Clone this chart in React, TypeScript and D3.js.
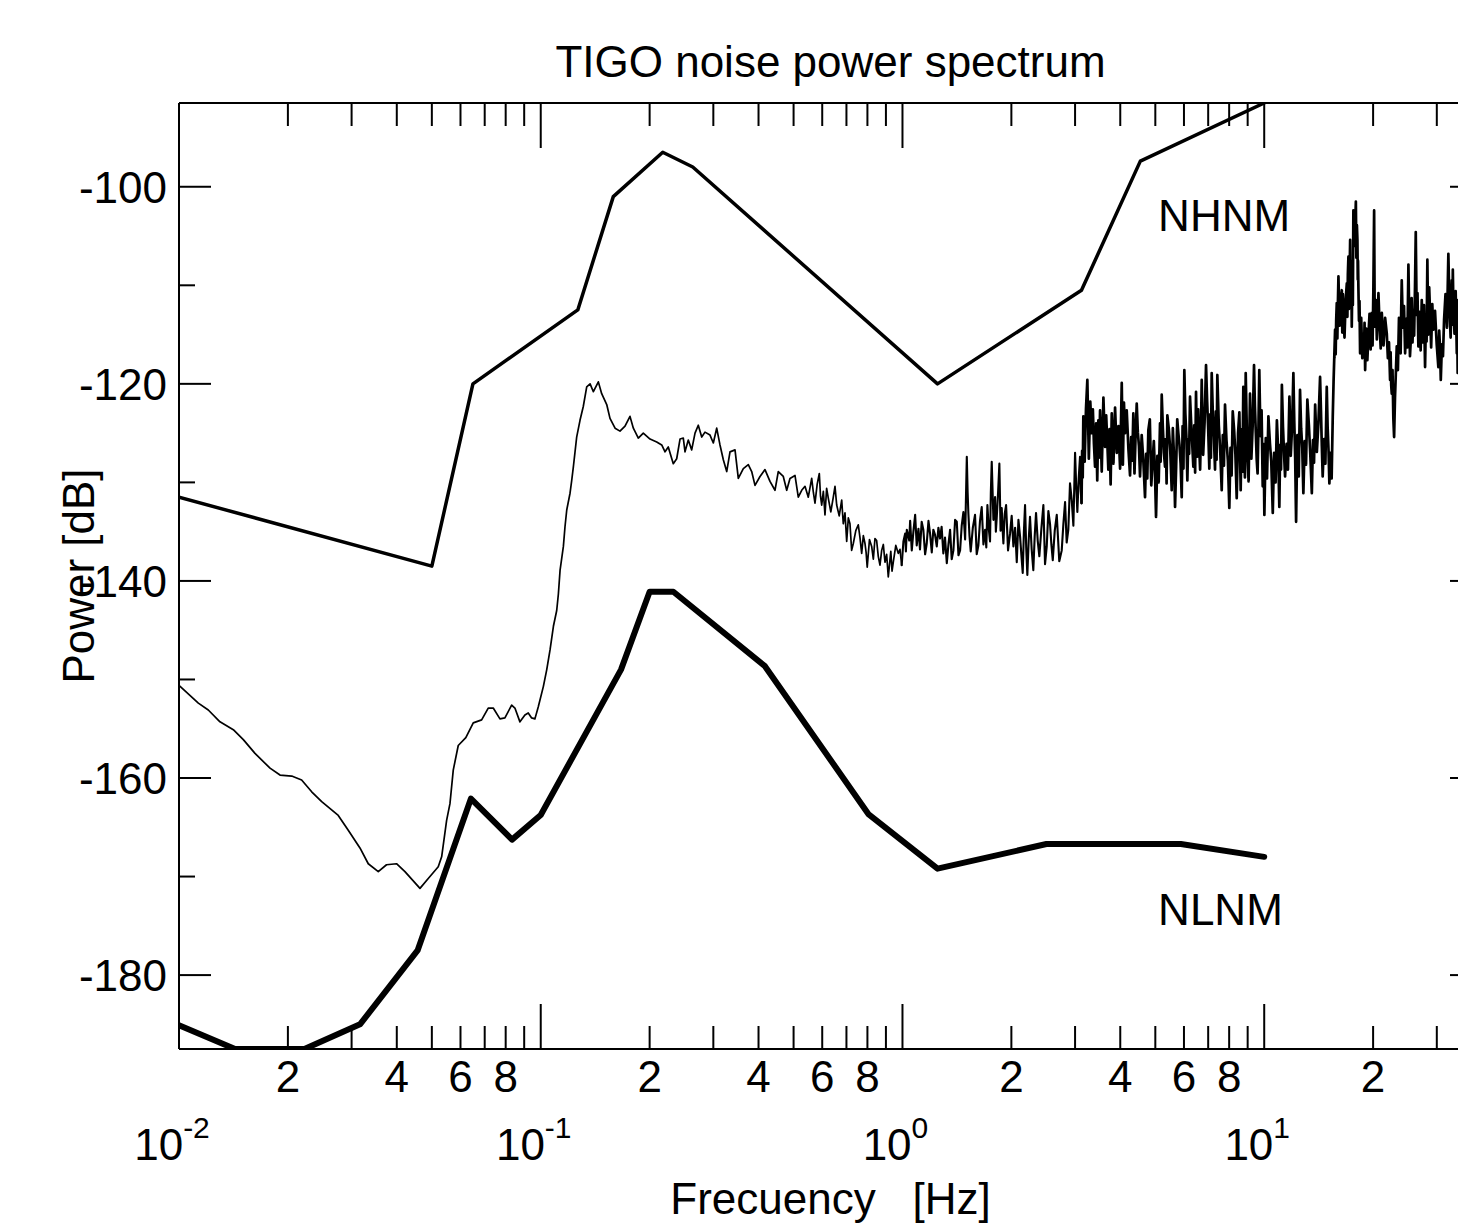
import React from 'react';
import * as d3 from 'd3';

const W = 1458;
const H = 1229;
const plot = { left: 179, right: 1482, top: 103, bottom: 1049 };
const FONT = '"Liberation Sans", Arial, Helvetica, sans-serif';

// axis ranges: frequency [Hz], power [dB]
const freqRange = [0.01, 40];
const powerRange = [-187.5, -91.5];

const yMajorTicks = [-180, -160, -140, -120, -100];
const yMinorTicks = [-170, -150, -130, -110];
const xDecadeExponents = [-2, -1, 0, 1];
const xLabelledDigits = [2, 4, 6, 8];

// Peterson (1993) New High Noise Model, breakpoints
const nhnmFreq = [0.01, 0.05, 0.06494, 0.1266, 0.1587, 0.2174, 0.2632, 1.25, 3.125, 4.545, 10];
const nhnmPower = [-131.5, -138.5, -120.0, -112.5, -101.0, -96.5, -98.0, -120.0, -110.5, -97.4, -91.5];

// Peterson (1993) New Low Noise Model, breakpoints
const nlnmFreq = [0.01, 0.01429, 0.02222, 0.03165, 0.04566, 0.0641, 0.0833, 0.1, 0.1667, 0.2, 0.2326, 0.4167, 0.8065, 1.25, 2.5, 5.882, 10];
const nlnmPower = [-185.1, -187.5, -187.5, -185.0, -177.5, -162.1, -166.25, -163.75, -149.0, -141.1, -141.1, -148.65, -163.7, -169.2, -166.7, -166.7, -168.0];

// TIGO measured spectrum [Hz, dB], long period part
const tigoLow: [number, number][] = [
  [0.0100, -150.6], [0.01131, -152.4], [0.01205, -153.1], [0.01298, -154.3], [0.01413, -155.1],
  [0.01506, -156.1], [0.01622, -157.5], [0.01785, -159.0], [0.01902, -159.7], [0.02049, -159.8],
  [0.02183, -160.2], [0.02327, -161.4], [0.02480, -162.4], [0.02756, -163.8], [0.02937, -165.3],
  [0.03164, -167.1], [0.03336, -168.7], [0.03555, -169.5], [0.03747, -168.8], [0.03993, -168.7],
  [0.04213, -169.5], [0.04636, -171.2], [0.04887, -170.2], [0.05208, -169.0], [0.05322, -168.0],
  [0.05493, -164.3], [0.05611, -162.6], [0.05730, -159.2], [0.05915, -156.7], [0.06207, -155.9],
  [0.06508, -154.4], [0.06865, -154.1], [0.07159, -152.9], [0.07391, -152.9], [0.07713, -154.0],
  [0.07961, -153.9], [0.08309, -152.6], [0.08484, -152.9], [0.08760, -154.3], [0.09042, -153.6],
  [0.09235, -153.4], [0.09437, -153.9], [0.09636, -154.0], [0.09842, -152.8], [0.1017, -150.7],
  [0.1039, -149.0], [0.1061, -147.0], [0.1084, -144.6], [0.1107, -143.0], [0.1119, -141.3],
  [0.1131, -138.9], [0.1155, -136.5], [0.1167, -134.5], [0.1180, -132.8], [0.1205, -131.1],
  [0.1218, -129.8], [0.1231, -128.4], [0.1257, -125.4], [0.1284, -123.7], [0.1311, -122.3],
  [0.1340, -120.3], [0.1369, -120.0], [0.1398, -120.8], [0.1443, -119.8], [0.1474, -121.0],
  [0.1522, -122.1], [0.1554, -123.5], [0.1605, -124.5], [0.1656, -124.8], [0.1710, -124.3],
  [0.1765, -123.3], [0.1803, -124.5], [0.1861, -125.5], [0.1921, -125.0], [0.2005, -125.6],
  [0.2092, -125.9], [0.2160, -126.2], [0.2206, -126.9], [0.2252, -126.4], [0.2325, -128.1],
  [0.2376, -127.6], [0.2427, -125.6], [0.2478, -125.5], [0.2505, -126.9], [0.2558, -125.7],
  [0.2614, -126.7], [0.2670, -125.0], [0.2726, -124.2], [0.2786, -125.4], [0.2845, -124.9],
  [0.2937, -125.2], [0.3000, -126.0], [0.3065, -124.5], [0.3130, -126.2], [0.3197, -127.7],
  [0.3267, -128.9], [0.3336, -126.9], [0.3444, -126.7], [0.3517, -129.6], [0.3631, -128.6],
  [0.3748, -128.2], [0.3830, -128.9], [0.3911, -130.3], [0.4038, -129.4], [0.4168, -128.7],
  [0.4303, -129.9], [0.4442, -130.8], [0.4536, -128.9], [0.4683, -129.4], [0.4786, -130.8],
  [0.4887, -129.6], [0.5045, -129.3], [0.5152, -131.5], [0.5265, -130.8], [0.5377, -130.4],
  [0.5491, -131.5], [0.5611, -129.6], [0.5670, -131.0], [0.5730, -132.1], [0.5810, -130.2],
  [0.5890, -129.1], [0.5935, -131.4], [0.5980, -132.3], [0.6043, -130.9], [0.6106, -133.3],
  [0.6171, -130.6], [0.6236, -131.6], [0.6337, -133.0], [0.6438, -131.5], [0.6508, -130.4],
  [0.6579, -132.3], [0.6685, -133.4], [0.6792, -131.8], [0.6826, -133.0], [0.6861, -134.2],
  [0.6936, -133.1], [0.7011, -136.0], [0.7085, -133.6], [0.7159, -134.2], [0.7235, -136.9],
  [0.7312, -136.2], [0.7430, -134.9], [0.7548, -134.3], [0.7630, -135.6], [0.7713, -137.2],
  [0.7795, -135.4], [0.7877, -136.2], [0.7933, -137.1], [0.7990, -138.6], [0.8105, -135.8],
  [0.8220, -136.5], [0.8307, -137.8], [0.8394, -135.7], [0.8483, -135.9], [0.8572, -137.5],
  [0.8666, -138.4], [0.8760, -136.9], [0.8853, -136.3], [0.8946, -138.1], [0.9041, -137.3],
  [0.9136, -139.6], [0.9284, -137.0], [0.9358, -139.0], [0.9432, -138.1], [0.9584, -136.4],
  [0.9736, -137.2], [0.9843, -136.8], [0.9950, -138.4],
];

// TIGO measured spectrum [Hz, dB], 1 - 3 Hz
const tigoMid: [number, number][] = [
  [1.006, -136.0], [1.017, -135.2], [1.022, -137.0], [1.028, -134.8], [1.044, -135.9],
  [1.050, -133.9], [1.061, -136.9], [1.072, -135.0], [1.084, -133.3], [1.095, -136.4],
  [1.107, -134.7], [1.118, -136.8], [1.130, -134.0], [1.142, -134.8], [1.155, -137.3],
  [1.167, -136.2], [1.180, -133.9], [1.192, -135.2], [1.205, -137.1], [1.217, -134.8],
  [1.230, -135.3], [1.244, -136.5], [1.257, -134.6], [1.270, -135.7], [1.283, -134.5],
  [1.297, -137.2], [1.311, -135.6], [1.326, -138.2], [1.340, -136.3], [1.354, -134.8],
  [1.368, -137.8], [1.383, -136.9], [1.398, -133.8], [1.413, -134.0], [1.428, -137.4],
  [1.443, -136.9], [1.458, -134.4], [1.474, -133.0], [1.490, -135.8], [1.506, -127.4],
  [1.514, -131.0], [1.521, -133.1], [1.532, -135.4], [1.544, -137.0], [1.565, -134.6],
  [1.587, -133.3], [1.604, -137.3], [1.621, -136.4], [1.638, -133.9], [1.656, -132.5],
  [1.674, -136.3], [1.692, -134.8], [1.705, -136.6], [1.717, -132.3], [1.731, -134.6],
  [1.746, -136.0], [1.755, -131.0], [1.765, -127.9], [1.784, -133.8], [1.803, -131.5],
  [1.812, -135.0], [1.822, -133.6], [1.838, -131.0], [1.853, -128.1], [1.867, -134.9],
  [1.881, -132.6], [1.891, -134.7], [1.901, -136.2], [1.917, -133.2], [1.934, -132.3],
  [1.958, -136.9], [1.983, -135.2], [2.004, -133.4], [2.026, -136.5], [2.048, -134.6],
  [2.070, -138.1], [2.092, -133.8], [2.114, -135.5], [2.132, -137.4], [2.150, -139.2],
  [2.166, -135.0], [2.182, -132.3], [2.198, -136.6], [2.214, -139.4], [2.233, -135.9],
  [2.252, -133.5], [2.276, -136.8], [2.300, -138.9], [2.320, -135.5], [2.340, -133.1],
  [2.365, -135.9], [2.390, -137.5], [2.421, -134.7], [2.452, -132.3], [2.478, -138.3],
  [2.505, -136.5], [2.531, -132.9], [2.558, -134.2], [2.580, -136.3], [2.603, -137.9],
  [2.636, -134.9], [2.670, -133.3], [2.713, -138.0], [2.756, -136.9], [2.785, -134.2],
  [2.815, -132.0], [2.844, -136.1], [2.874, -134.8], [2.905, -130.1], [2.937, -131.8],
  [2.968, -134.4], [3.000, -127.0], [3.022, -130.4], [3.044, -133.0], [3.070, -129.6],
  [3.096, -127.4], [3.111, -130.9], [3.126, -132.1],
];

// TIGO measured spectrum [Hz, dB], 3 - 15.5 Hz
const tigoHigh: [number, number][] = [
  [3.138, -126.8], [3.150, -129.5], [3.162, -123.3], [3.189, -127.9], [3.216, -122.5],
  [3.244, -119.6], [3.275, -127.6], [3.305, -121.8], [3.336, -125.0], [3.360, -122.6],
  [3.383, -126.1], [3.407, -128.4], [3.431, -124.0], [3.455, -129.8], [3.479, -123.7],
  [3.492, -127.5], [3.504, -125.9], [3.517, -122.7], [3.555, -128.9], [3.593, -121.4],
  [3.631, -126.4], [3.657, -123.2], [3.682, -125.8], [3.708, -128.7], [3.735, -124.6],
  [3.762, -130.2], [3.789, -123.0], [3.830, -128.1], [3.870, -122.4], [3.911, -127.0],
  [3.953, -124.3], [3.996, -128.6], [4.038, -119.9], [4.067, -128.2], [4.095, -121.9],
  [4.124, -125.0], [4.168, -122.7], [4.213, -126.6], [4.257, -129.3], [4.287, -125.4],
  [4.317, -127.8], [4.347, -123.0], [4.379, -129.1], [4.410, -125.2], [4.442, -122.0],
  [4.473, -124.9], [4.505, -126.3], [4.536, -129.4], [4.585, -125.2], [4.634, -127.9],
  [4.683, -131.5], [4.716, -127.1], [4.750, -129.6], [4.783, -124.7], [4.828, -123.6],
  [4.873, -130.3], [4.918, -127.7], [4.953, -125.8], [4.988, -128.9], [5.023, -133.5],
  [5.066, -127.3], [5.109, -130.0], [5.152, -124.0], [5.171, -127.9], [5.190, -125.4],
  [5.208, -121.1], [5.245, -124.4], [5.282, -127.0], [5.319, -128.4], [5.345, -125.6],
  [5.372, -130.1], [5.398, -123.2], [5.449, -124.6], [5.499, -126.8], [5.550, -130.8],
  [5.590, -124.5], [5.629, -127.2], [5.669, -132.5], [5.709, -128.4], [5.749, -123.6],
  [5.789, -125.0], [5.831, -126.2], [5.873, -128.1], [5.915, -131.5], [5.948, -124.3],
  [5.981, -128.6], [6.014, -118.6], [6.053, -123.0], [6.092, -125.3], [6.131, -129.8],
  [6.166, -125.6], [6.201, -127.1], [6.236, -121.3], [6.280, -123.9], [6.324, -126.1],
  [6.369, -128.4], [6.406, -124.2], [6.442, -129.0], [6.479, -120.8], [6.525, -127.4],
  [6.570, -122.6], [6.616, -126.7], [6.650, -128.7], [6.684, -124.9], [6.718, -119.6],
  [6.780, -127.2], [6.842, -123.9], [6.905, -118.1], [6.954, -121.8], [7.002, -124.7],
  [7.051, -128.6], [7.087, -123.1], [7.123, -127.5], [7.159, -118.9], [7.210, -123.0],
  [7.261, -125.5], [7.312, -128.7], [7.348, -122.8], [7.384, -127.7], [7.420, -119.1],
  [7.490, -124.2], [7.560, -126.9], [7.630, -130.8], [7.684, -125.2], [7.738, -128.3],
  [7.792, -122.1], [7.864, -125.7], [7.936, -127.8], [8.008, -132.6], [8.067, -126.5],
  [8.125, -129.3], [8.184, -122.8], [8.254, -124.6], [8.324, -127.1], [8.394, -131.6],
  [8.466, -125.0], [8.537, -122.9], [8.609, -130.8], [8.658, -124.6], [8.706, -128.9],
  [8.755, -120.3], [8.800, -126.3], [8.844, -129.5], [8.889, -118.9], [8.971, -126.4],
  [9.054, -129.9], [9.136, -121.0], [9.215, -127.6], [9.293, -124.2], [9.372, -118.1],
  [9.426, -122.3], [9.480, -125.0], [9.534, -127.7], [9.587, -129.1], [9.639, -124.5],
  [9.692, -118.6], [9.763, -125.3], [9.834, -122.7], [9.905, -130.4], [9.940, -126.1],
  [9.975, -128.2], [10.01, -133.3], [10.10, -125.5], [10.18, -129.6], [10.27, -123.3],
  [10.37, -126.0], [10.46, -127.9], [10.56, -133.1], [10.65, -127.0], [10.75, -130.0],
  [10.84, -123.7], [10.90, -125.8], [10.95, -128.4], [11.01, -132.5], [11.07, -126.2],
  [11.13, -128.7], [11.19, -120.1], [11.27, -124.4], [11.34, -126.9], [11.42, -129.4],
  [11.53, -126.1], [11.63, -128.7], [11.74, -121.3], [11.84, -127.3], [11.94, -124.4],
  [12.04, -118.9], [12.11, -123.9], [12.18, -127.6], [12.25, -134.0], [12.35, -125.2],
  [12.46, -129.4], [12.56, -120.6], [12.65, -124.5], [12.74, -126.5], [12.83, -131.1],
  [12.94, -125.8], [13.05, -128.2], [13.16, -121.6], [13.29, -124.2], [13.41, -127.2],
  [13.54, -131.1], [13.64, -125.7], [13.73, -128.0], [13.83, -122.1], [13.98, -126.9],
  [14.12, -124.0], [14.27, -119.3], [14.35, -122.7], [14.43, -126.3], [14.51, -129.4],
  [14.64, -125.6], [14.76, -128.1], [14.89, -120.3], [14.97, -124.3], [15.06, -126.8],
  [15.14, -130.1], [15.25, -127.0], [15.36, -129.6], [15.47, -123.3], [15.55, -119.8],
  [15.62, -117.3],
];

// TIGO measured spectrum [Hz, dB], above 15.5 Hz
const tigoTop: [number, number][] = [
  [15.70, -114.5], [15.76, -117.0], [15.81, -113.6], [15.87, -111.8], [15.93, -115.4],
  [15.98, -112.0], [16.04, -109.1], [16.16, -114.1], [16.27, -111.6], [16.39, -110.5],
  [16.44, -114.8], [16.50, -110.9], [16.55, -112.5], [16.67, -115.3], [16.80, -111.4],
  [16.92, -109.8], [16.98, -113.2], [17.03, -108.9], [17.09, -107.1], [17.15, -112.4],
  [17.22, -109.0], [17.28, -105.4], [17.34, -110.8], [17.40, -107.6], [17.46, -114.2],
  [17.52, -109.8], [17.58, -112.0], [17.64, -102.4], [17.73, -106.0], [17.83, -104.3],
  [17.92, -101.5], [17.98, -107.2], [18.04, -103.9], [18.10, -105.4], [18.14, -109.4],
  [18.17, -107.5], [18.21, -110.1], [18.28, -113.6], [18.34, -111.6], [18.41, -116.9],
  [18.54, -113.3], [18.67, -117.4], [18.80, -114.9], [18.87, -117.0], [18.94, -113.8],
  [19.01, -118.6], [19.14, -114.4], [19.28, -117.6], [19.41, -115.2], [19.55, -112.9],
  [19.69, -116.5], [19.83, -112.8], [19.93, -116.1], [20.03, -110.6], [20.13, -102.4],
  [20.21, -114.2], [20.30, -112.3], [20.38, -111.5], [20.48, -115.5], [20.59, -113.0],
  [20.69, -110.8], [20.84, -114.0], [20.99, -116.4], [21.14, -112.8], [21.37, -116.1],
  [21.59, -113.3], [21.82, -114.9], [21.97, -117.4], [22.13, -115.8], [22.28, -119.6],
  [22.36, -116.8], [22.44, -120.1], [22.52, -121.0], [22.63, -118.6], [22.75, -123.5],
  [22.86, -125.4], [22.99, -121.4], [23.12, -118.8], [23.25, -116.2], [23.42, -118.6],
  [23.58, -113.3], [23.75, -114.2], [23.83, -116.9], [23.92, -112.4], [24.00, -109.5],
  [24.17, -114.3], [24.35, -112.1], [24.52, -116.9], [24.69, -113.4], [24.87, -116.3],
  [25.04, -107.9], [25.17, -113.1], [25.29, -117.2], [25.42, -115.6], [25.56, -111.3],
  [25.70, -115.8], [25.84, -112.5], [25.97, -115.1], [26.11, -110.2], [26.24, -104.6],
  [26.39, -113.0], [26.53, -110.8], [26.68, -116.2], [26.87, -112.7], [27.07, -116.6],
  [27.26, -111.5], [27.45, -115.8], [27.65, -112.0], [27.84, -118.3], [27.98, -113.9],
  [28.11, -115.7], [28.25, -107.4], [28.41, -115.0], [28.58, -110.2], [28.74, -112.8],
  [28.94, -116.3], [29.15, -111.9], [29.35, -114.5], [29.66, -112.6], [29.98, -116.0],
  [30.30, -118.3], [30.46, -114.6], [30.61, -116.2], [30.77, -119.6], [30.99, -116.0],
  [31.20, -117.2], [31.42, -113.5], [31.71, -110.9], [32.00, -114.3], [32.29, -106.8],
  [32.53, -112.5], [32.76, -115.3], [33.00, -109.5], [33.11, -114.0], [33.22, -108.4],
  [33.34, -112.2], [33.58, -114.9], [33.83, -110.6], [34.07, -116.9], [34.16, -113.6],
  [34.26, -118.9], [34.35, -111.5], [36.0, -114.0], [38.0, -116.5], [40.0, -113.0],
];

// curve labels [Hz, dB]
const modelLabels: { text: string; at: [number, number] }[] = [
  { text: 'NHNM', at: [5.09, -104.5] },
  { text: 'NLNM', at: [5.09, -174.9] },
];

const App = () => {
  const x = d3.scaleLog().domain(freqRange).range([plot.left, plot.right]);
  const y = d3.scaleLinear().domain(powerRange).range([plot.bottom, plot.top]);

  const xTicks = x.ticks();
  const mantissa = (v: number) => Math.round(v / Math.pow(10, Math.floor(Math.log10(v) + 1e-9)));
  const xMajor = xTicks.filter(t => mantissa(t) === 1);
  const xMinor = xTicks.filter(t => mantissa(t) !== 1 && t < freqRange[1]);

  const pairLine = d3.line<[number, number]>()
    .x(d => x(d[0]))
    .y(d => y(d[1]));

  // the dense high-frequency parts are drawn heavier, like the many overplotted FFT bins
  const pieces: { pts: [number, number][]; w: number }[] = [
    { pts: tigoLow, w: 1.7 },
    { pts: [tigoLow[tigoLow.length - 1], ...tigoMid], w: 2.1 },
    { pts: [tigoMid[tigoMid.length - 1], ...tigoHigh], w: 2.7 },
    { pts: [tigoHigh[tigoHigh.length - 1], ...tigoTop], w: 2.7 },
  ];
  const nhnm = nhnmFreq.map((f, i) => [f, nhnmPower[i]] as [number, number]);
  const nlnm = nlnmFreq.map((f, i) => [f, nlnmPower[i]] as [number, number]);

  const majorLen = 45;
  const minorLen = 23;
  const yMajorLen = 32;
  const yMinorLen = 16;

  return (
    <div style={{ position: 'absolute', left: 0, top: 0 }}>
      <svg width={W} height={H} style={{ display: 'block', background: '#fff' }} fontFamily={FONT}>
        <defs>
          <clipPath id="plotClip">
            <rect x={plot.left} y={plot.top} width={plot.right - plot.left} height={plot.bottom - plot.top} />
          </clipPath>
        </defs>
        <rect width={W} height={H} fill="#fff" />

        <text x={(plot.left + plot.right) / 2} y={77} textAnchor="middle" fontSize={44}>
          TIGO noise power spectrum
        </text>

        {/* data */}
        <g clipPath="url(#plotClip)" fill="none" stroke="#000" strokeLinejoin="round" strokeLinecap="round">
          {pieces.map((p, i) => (
            <path key={`sp${i}`} d={pairLine(p.pts) || ''} strokeWidth={p.w} />
          ))}
          <path d={pairLine(nhnm) || ''} strokeWidth={3.5} />
          <path d={pairLine(nlnm) || ''} strokeWidth={6} />
        </g>

        {/* frame */}
        <g stroke="#000" strokeWidth={2} fill="none">
          <line x1={plot.left} x2={plot.right} y1={plot.top} y2={plot.top} />
          <line x1={plot.left} x2={plot.right} y1={plot.bottom} y2={plot.bottom} />
          <line x1={plot.left} x2={plot.left} y1={plot.top} y2={plot.bottom} />
          <line x1={plot.right} x2={plot.right} y1={plot.top} y2={plot.bottom} />
          {xMajor.map(t => (
            <g key={`xM${t}`}>
              <line x1={x(t)} x2={x(t)} y1={plot.bottom} y2={plot.bottom - majorLen} />
              <line x1={x(t)} x2={x(t)} y1={plot.top} y2={plot.top + majorLen} />
            </g>
          ))}
          {xMinor.map(t => (
            <g key={`xm${t}`}>
              <line x1={x(t)} x2={x(t)} y1={plot.bottom} y2={plot.bottom - minorLen} />
              <line x1={x(t)} x2={x(t)} y1={plot.top} y2={plot.top + minorLen} />
            </g>
          ))}
          {yMajorTicks.map(t => (
            <g key={`yM${t}`}>
              <line x1={plot.left} x2={plot.left + yMajorLen} y1={y(t)} y2={y(t)} />
              <line x1={plot.right} x2={plot.right - yMajorLen} y1={y(t)} y2={y(t)} />
            </g>
          ))}
          {yMinorTicks.map(t => (
            <g key={`ym${t}`}>
              <line x1={plot.left} x2={plot.left + yMinorLen} y1={y(t)} y2={y(t)} />
              <line x1={plot.right} x2={plot.right - yMinorLen} y1={y(t)} y2={y(t)} />
            </g>
          ))}
        </g>

        {/* y tick labels */}
        {yMajorTicks.map(t => (
          <text key={`yl${t}`} x={plot.left - 12} y={y(t) + 16} textAnchor="end" fontSize={44}>
            {t}
          </text>
        ))}

        {/* x tick labels */}
        {xMinor.filter(t => xLabelledDigits.includes(mantissa(t))).map(t => (
          <text key={`xl${t}`} x={x(t)} y={1092} textAnchor="middle" fontSize={44}>
            {mantissa(t)}
          </text>
        ))}
        {xDecadeExponents.map(e => (
          <text key={`xe${e}`} x={x(Math.pow(10, e)) - 7} y={1160} textAnchor="middle" fontSize={44}>
            <tspan>10</tspan>
            <tspan dy={-22} fontSize={30}>{e}</tspan>
          </text>
        ))}

        {/* axis titles */}
        <text x={(plot.left + plot.right) / 2} y={1214} textAnchor="middle" fontSize={44} style={{ whiteSpace: 'pre' }}>
          {'Frecuency   [Hz]'}
        </text>
        <text transform={`translate(94, ${(plot.top + plot.bottom) / 2}) rotate(-90)`} textAnchor="middle" fontSize={44}>
          Power [dB]
        </text>

        {modelLabels.map(l => (
          <text key={l.text} x={x(l.at[0])} y={y(l.at[1])} fontSize={44}>
            {l.text}
          </text>
        ))}
      </svg>
    </div>
  );
};

export default App;
